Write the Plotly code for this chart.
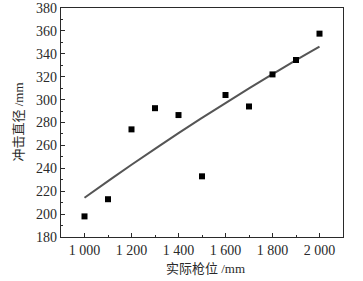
import plotly.graph_objects as go

# measured data
pos_x = [1000, 1100, 1200, 1300, 1400, 1500, 1600, 1700, 1800, 1900, 2000]
diam_y = [198, 213, 274, 292.5, 286.5, 233, 304, 294, 322, 334.6, 357.6]

# fitted curve
fit_x = [1000, 1100, 1200, 1300, 1400, 1500, 1600, 1700, 1800, 1900, 2000]
fit_y = [214.3, 228.8, 243.1, 257.0, 270.7, 284.0, 297.0, 309.8, 322.2, 334.4, 346.2]

x_ticks = [1000, 1200, 1400, 1600, 1800, 2000]
x_labels = ["1 000", "1 200", "1 400", "1 600", "1 800", "2 000"]
y_ticks = list(range(180, 381, 20))

font_fam = "Liberation Serif, Noto Sans CJK SC, serif"
ink = "#2a2a2a"

fig = go.Figure()
fig.add_trace(go.Scatter(x=fit_x, y=fit_y, mode="lines", line=dict(color="#555555", width=2, shape="spline"),
                         showlegend=False, hoverinfo="skip"))
fig.add_trace(go.Scatter(x=pos_x, y=diam_y, mode="markers",
                         marker=dict(symbol="square", size=6, color="black"), showlegend=False))

axis_common = dict(showline=True, linecolor=ink, linewidth=1.2, mirror=True, showgrid=False, zeroline=False,
                   ticks="inside", ticklen=4, tickcolor=ink, automargin=False,
                   tickfont=dict(family=font_fam, size=14, color=ink))

fig.update_xaxes(range=[900, 2100], tickvals=x_ticks, ticktext=x_labels,
                 minor=dict(ticks="inside", ticklen=2, dtick=100, tick0=900, tickcolor=ink),
                 **axis_common)
fig.update_yaxes(range=[180, 380], tickvals=y_ticks,
                 minor=dict(ticks="inside", ticklen=2, dtick=10, tick0=180, tickcolor=ink),
                 **axis_common)

title_font = dict(family=font_fam, size=13, color=ink)
fig.add_annotation(text="实际枪位 /mm", xref="paper", yref="paper", x=0.512, y=0, yshift=-31,
                   xanchor="center", yanchor="middle", showarrow=False, font=title_font)
fig.add_annotation(text="冲击直径 /mm", xref="paper", yref="paper", x=0, xshift=-43, y=0.5,
                   xanchor="center", yanchor="middle", textangle=-90, showarrow=False, font=title_font)

fig.update_layout(width=363, height=281, margin=dict(l=61, r=20, t=8, b=44),
                  plot_bgcolor="white", paper_bgcolor="white")

fig.write_html("out.html", config={"displayModeBar": False},
               post_script="document.body.style.margin='0';")
